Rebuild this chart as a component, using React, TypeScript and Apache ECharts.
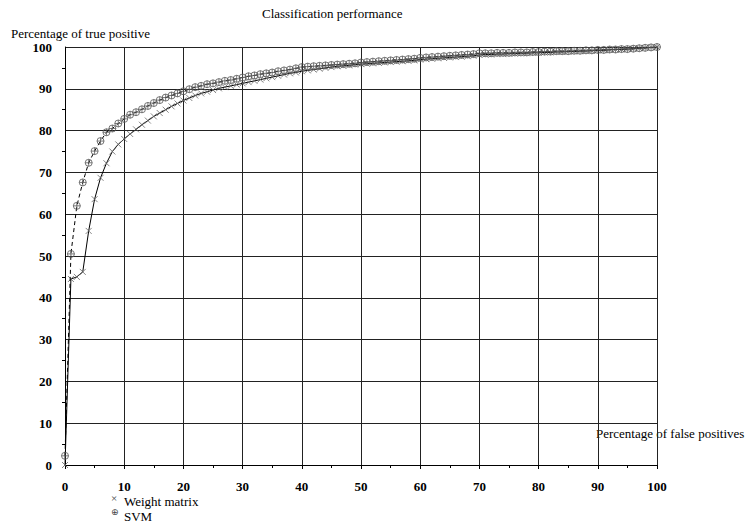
import React, { useEffect, useRef } from "react";
import * as echarts from "echarts";

const falsePositives = [
  0, 1, 2, 3, 4, 5, 6, 7, 8, 9, 10, 11, 12, 13, 14, 15, 16, 17, 18, 19, 20,
  21, 22, 23, 24, 25, 26, 27, 28, 29, 30, 31, 32, 33, 34, 35, 36, 37, 38, 39, 40,
  41, 42, 43, 44, 45, 46, 47, 48, 49, 50, 51, 52, 53, 54, 55, 56, 57, 58, 59, 60,
  61, 62, 63, 64, 65, 66, 67, 68, 69, 70, 71, 72, 73, 74, 75, 76, 77, 78, 79, 80,
  81, 82, 83, 84, 85, 86, 87, 88, 89, 90, 91, 92, 93, 94, 95, 96, 97, 98, 99, 100,
];

const weightMatrix = [
  0, 44.5, 45.0, 46.2, 56.0, 63.6, 68.7, 72.2, 75.0, 76.7, 78.0,
  79.2, 80.3, 81.4, 82.4, 83.4, 84.2, 85.0, 85.8, 86.5, 87.2,
  87.8, 88.4, 88.9, 89.3, 89.7, 90.1, 90.4, 90.7, 91.0, 91.3,
  91.6, 91.9, 92.2, 92.5, 92.8, 93.1, 93.4, 93.7, 93.9, 94.2,
  94.4, 94.6, 94.8, 95.0, 95.2, 95.4, 95.5, 95.6, 95.8, 95.9,
  96.0, 96.1, 96.2, 96.3, 96.4, 96.5, 96.6, 96.7, 96.8, 97.0,
  97.1, 97.2, 97.3, 97.4, 97.5, 97.6, 97.7, 97.8, 97.9, 98.1,
  98.2, 98.2, 98.3, 98.3, 98.4, 98.4, 98.5, 98.5, 98.6, 98.6,
  98.7, 98.7, 98.8, 98.8, 98.9, 98.9, 99.0, 99.0, 99.1, 99.2,
  99.2, 99.3, 99.4, 99.4, 99.5, 99.6, 99.7, 99.8, 99.9, 100,
];

const svm = [
  2.2, 50.5, 62.0, 67.6, 72.3, 75.1, 77.5, 79.6, 80.5, 81.7, 82.8,
  83.8, 84.4, 85.1, 85.9, 86.6, 87.3, 87.9, 88.4, 88.9, 89.4,
  89.9, 90.4, 90.7, 91.1, 91.3, 91.6, 91.9, 92.1, 92.4, 92.7,
  93.0, 93.2, 93.5, 93.7, 93.9, 94.2, 94.4, 94.6, 94.9, 95.2,
  95.3, 95.4, 95.5, 95.6, 95.7, 95.8, 95.9, 96.0, 96.1, 96.3,
  96.4, 96.5, 96.6, 96.7, 96.8, 96.9, 97.0, 97.1, 97.2, 97.4,
  97.5, 97.6, 97.7, 97.8, 97.9, 98.0, 98.1, 98.2, 98.3, 98.5,
  98.5, 98.5, 98.6, 98.6, 98.6, 98.7, 98.7, 98.7, 98.8, 98.8,
  98.9, 98.9, 99.0, 99.0, 99.0, 99.1, 99.1, 99.2, 99.2, 99.3,
  99.3, 99.4, 99.4, 99.5, 99.5, 99.6, 99.7, 99.8, 99.9, 100,
];

const seriesNames = ["Weight matrix", "SVM"];
const titleText = "Classification performance";
const yAxisName = "Percentage of true positive";
const xAxisName = "Percentage of false positives";

const SERIF = "'Liberation Serif', 'Times New Roman', serif";

export default function App() {
  const ref = useRef<HTMLDivElement>(null);

  useEffect(() => {
    if (!ref.current) return;
    const chart = echarts.init(ref.current, null, { renderer: "svg" });

    const axisCommon = {
      type: "value" as const,
      min: 0,
      max: 100,
      interval: 10,
      axisLine: { show: true, lineStyle: { color: "#000", width: 1 } },
      splitLine: { show: true, lineStyle: { color: "#222", width: 1 } },
      minorTick: { show: true, splitNumber: 2, length: 3, lineStyle: { color: "#000", width: 1 } },
      axisLabel: {
        color: "#000",
        fontFamily: SERIF,
        fontWeight: "bold" as const,
        fontSize: 13,
      },
    };

    chart.setOption({
      animation: false,
      backgroundColor: "#fff",
      title: {
        text: titleText,
        left: 262,
        top: 7,
        padding: 0,
        textStyle: { fontFamily: SERIF, fontSize: 13, fontWeight: "normal", color: "#000" },
      },
      grid: { left: 65, right: 92, top: 47, bottom: 64, containLabel: false },
      xAxis: {
        ...axisCommon,
        axisTick: { show: true, length: 4, lineStyle: { color: "#000" } },
        axisLabel: { ...axisCommon.axisLabel, margin: 15 },
      },
      yAxis: {
        ...axisCommon,
        axisTick: { show: false },
        axisLabel: { ...axisCommon.axisLabel, margin: 13 },
      },
      series: [
        {
          name: seriesNames[0],
          type: "line",
          data: falsePositives.map((x, i) => [x, weightMatrix[i]]),
          symbol: "path://M0,0 L10,10 M10,0 L0,10",
          symbolSize: 6,
          showAllSymbol: true,
          itemStyle: { color: "rgba(0,0,0,0)", borderColor: "#666", borderWidth: 0.8 },
          lineStyle: { color: "#000", width: 1, type: "solid" },
          z: 3,
        },
        {
          name: seriesNames[1],
          type: "line",
          data: falsePositives.map((x, i) => [x, svm[i]]),
          symbol:
            "path://M10,0 A10,10 0 1,1 10,20 A10,10 0 1,1 10,0 Z M0,10 L20,10 M10,0 L10,20",
          symbolSize: 7,
          showAllSymbol: true,
          itemStyle: { color: "rgba(0,0,0,0)", borderColor: "#555", borderWidth: 0.8 },
          lineStyle: { color: "#000", width: 1, type: [4, 3] },
          z: 4,
        },
      ],
      graphic: [
        {
          type: "text",
          left: 11,
          top: 27,
          style: { text: yAxisName, fontFamily: SERIF, fontSize: 13, fill: "#000" },
        },
        {
          type: "text",
          left: 596,
          top: 427,
          style: { text: xAxisName, fontFamily: SERIF, fontSize: 13, fill: "#000" },
        },
        {
          type: "text",
          left: 111,
          top: 492,
          style: { text: "×", fontFamily: SERIF, fontSize: 11, fill: "#444" },
        },
        {
          type: "text",
          left: 124,
          top: 495,
          style: { text: seriesNames[0], fontFamily: SERIF, fontSize: 13, fill: "#000" },
        },
        {
          type: "text",
          left: 111,
          top: 507,
          style: { text: "⊕", fontFamily: "'DejaVu Sans', sans-serif", fontSize: 9, fill: "#444" },
        },
        {
          type: "text",
          left: 124,
          top: 510,
          style: { text: seriesNames[1], fontFamily: SERIF, fontSize: 13, fill: "#000" },
        },
      ],
    });

    return () => chart.dispose();
  }, []);

  return (
    <div
      ref={ref}
      style={{ position: "absolute", left: 0, top: 0, width: 749, height: 529, background: "#fff" }}
    />
  );
}
